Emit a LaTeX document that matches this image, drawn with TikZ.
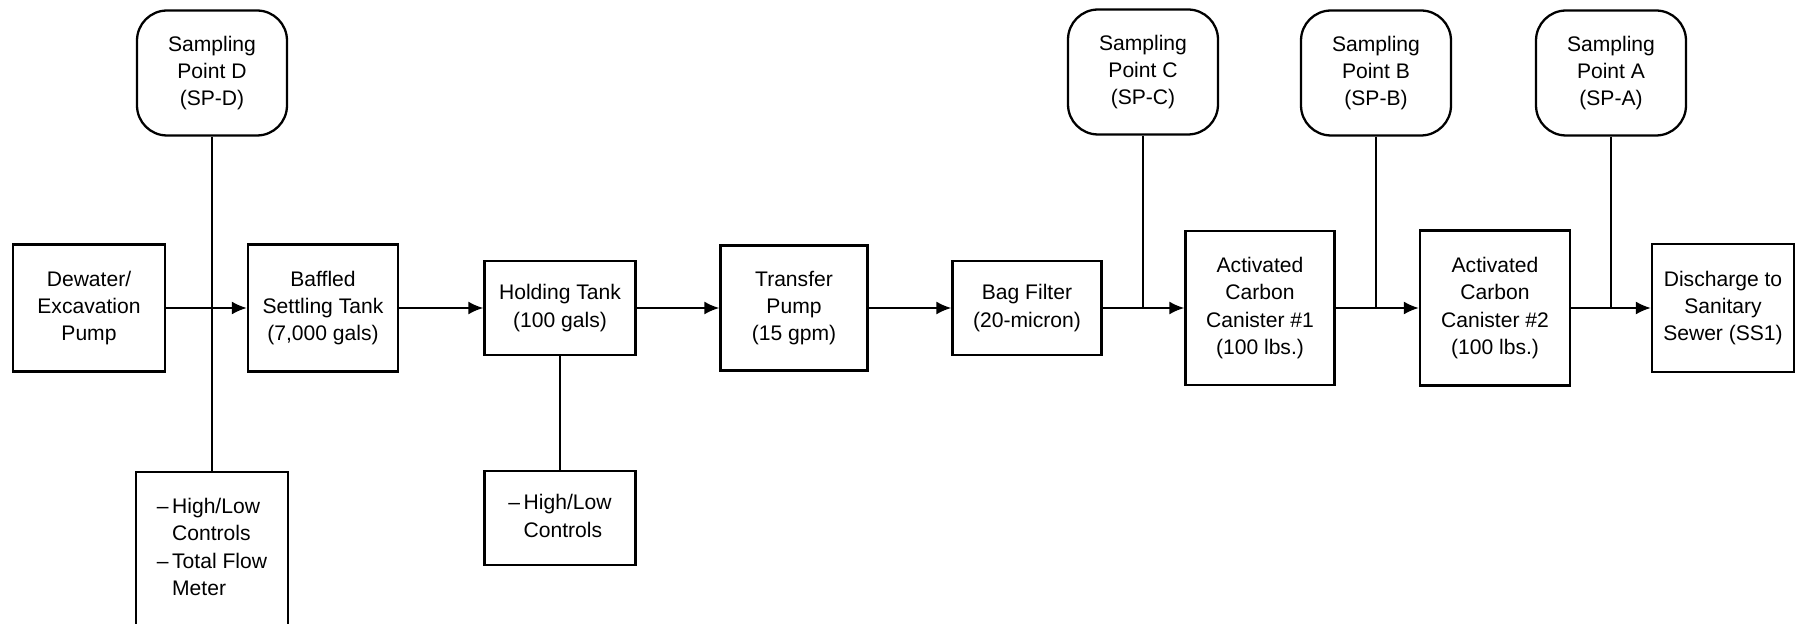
\documentclass[tikz,border=0pt]{standalone}
\usepackage{fontspec}
\setmainfont{Liberation Sans}
\usetikzlibrary{arrows.meta, positioning}

\begin{document}
\begin{tikzpicture}[
    x=0.02cm, y=-0.02cm,
    align=center,
    font=\fontsize{12}{15.6}\selectfont,
    box/.style={draw, rectangle, line width=1.3pt, inner sep=2pt},
    sample/.style={draw, rectangle, rounded corners=0.6cm, line width=1.3pt, minimum width=3.0cm, minimum height=2.5cm},
    arrow/.style={-{Latex[length=3mm, width=2.6mm]}, line width=1.2pt},
    stem/.style={line width=1pt}
]
    \useasboundingbox (0,0) rectangle (1796,624);

    % Linha principal
    \node[box, minimum width=3.04cm, minimum height=2.54cm] (dewater) at (89,308) {Dewater/\\Excavation\\Pump};
    \node[box, minimum width=3.0cm, minimum height=2.54cm] (baffled) at (323,308) {Baffled\\Settling Tank\\(7,000 gals)};
    \node[box, minimum width=3.02cm, minimum height=1.88cm] (holding) at (560,308) {Holding Tank\\(100 gals)};
    \node[box, minimum width=2.94cm, minimum height=2.5cm] (transfer) at (794,308) {Transfer\\Pump\\(15 gpm)};
    \node[box, minimum width=2.98cm, minimum height=1.88cm] (bagfilter) at (1027,308) {Bag Filter\\(20-micron)};
    \node[box, minimum width=2.98cm, minimum height=3.08cm] (carbon1) at (1260,308) {Activated\\Carbon\\Canister \#1\\(100 lbs.)};
    \node[box, minimum width=3.0cm, minimum height=3.1cm] (carbon2) at (1495,308) {Activated\\Carbon\\Canister \#2\\(100 lbs.)};
    \node[box, minimum width=2.84cm, minimum height=2.56cm] (discharge) at (1723,308) {Discharge to\\Sanitary\\Sewer (SS1)};

    % Pontos de amostragem
    \node[sample] (spd) at (212,73) {Sampling\\Point D\\(SP-D)};
    \node[sample] (spc) at (1143,72) {Sampling\\Point C\\(SP-C)};
    \node[sample] (spb) at (1376,73) {Sampling\\Point B\\(SP-B)};
    \node[sample] (spa) at (1611,73) {Sampling\\Point A\\(SP-A)};

    % Controles
    \node[box, minimum width=3.04cm, minimum height=3.08cm] (ctrl1) at (212,549) {\begin{tabular}{@{}l@{\,}l@{}}
        -- & High/Low\\ & Controls\\ -- & Total Flow\\ & Meter\end{tabular}};
    \node[box, minimum width=3.02cm, minimum height=1.88cm] (ctrl2) at (560,518) {\begin{tabular}{@{}l@{\,}l@{}}
        -- & High/Low\\ & Controls\end{tabular}};

    % Conexões
    \draw[arrow] (dewater) -- (baffled);
    \draw[arrow] (baffled) -- (holding);
    \draw[arrow] (holding) -- (transfer);
    \draw[arrow] (transfer) -- (bagfilter);
    \draw[arrow] (bagfilter) -- (carbon1);
    \draw[arrow] (carbon1) -- (carbon2);
    \draw[arrow] (carbon2) -- (discharge);
    \draw[stem] (spd) -- (ctrl1);
    \draw[stem] (holding) -- (ctrl2);
    \draw[stem] (spc) -- (spc |- bagfilter.east);
    \draw[stem] (spb) -- (spb |- carbon1.east);
    \draw[stem] (spa) -- (spa |- carbon2.east);
\end{tikzpicture}
\end{document}
